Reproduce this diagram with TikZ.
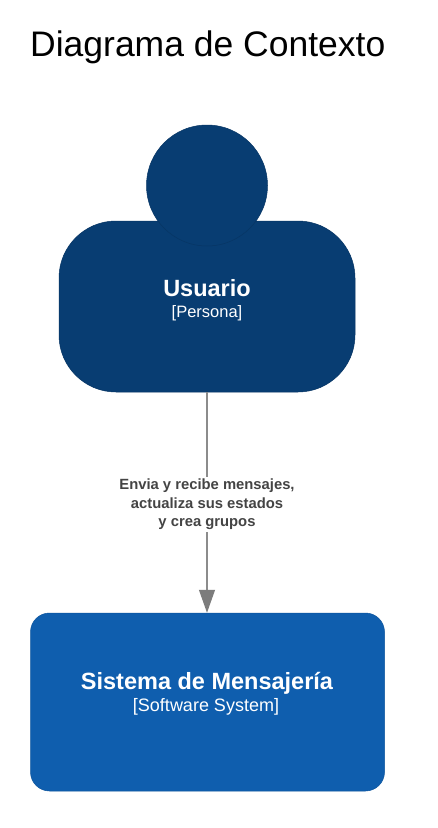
\documentclass[tikz,border=0pt]{standalone}
\usepackage{fontspec}
\setmainfont{Liberation Sans}
\usetikzlibrary{arrows.meta}
\definecolor{persona}{HTML}{083D72}
\definecolor{persline}{HTML}{073564}
\definecolor{sistema}{HTML}{0F5EAE}
\definecolor{sysline}{HTML}{0D559E}
\definecolor{conn}{HTML}{8C8C8C}
\definecolor{connhead}{HTML}{7C7C7C}
\definecolor{lbl}{HTML}{444444}
\tikzset{
 x=1pt,y=-1pt,
 body/.style={draw=persline,fill=persona,rounded corners=57pt,line width=.5pt},
 sysbox/.style={draw=sysline,fill=sistema,rounded corners=19pt,line width=.5pt},
 head/.style={circle,draw=persline,fill=persona,inner sep=0pt,minimum size=121pt,line width=.5pt},
 ttl/.style={font=\bfseries\fontsize{23.5}{26}\selectfont,text=white,inner sep=0pt},
 sub/.style={font=\fontsize{16.5}{19}\selectfont,text=white,inner sep=0pt},
 subb/.style={font=\fontsize{18}{20}\selectfont,text=white,inner sep=0pt},
 rel/.style={font=\bfseries\fontsize{14.8}{18.4}\selectfont,text=lbl,align=center,fill=white,inner xsep=1pt,inner ysep=2pt},
 conector/.style={draw=conn,line width=1.1pt,-{Triangle[length=23pt,width=16pt,color=connhead]}}
}
\begin{document}
\begin{tikzpicture}
\useasboundingbox[fill=white] (0,0) rectangle (438,828);
\node[font=\fontsize{35.5}{40}\selectfont,anchor=west,inner sep=0pt] (titulo) at (30,47) {Diagrama de Contexto};
\node[body,minimum width=296pt,minimum height=171pt,inner sep=0pt] (usuario) at (207,306.5) {};
\node[head] (cabeza) at (207,185.5) {};
\node[ttl] (usuariot) at (207,288.5) {Usuario};
\node[sub] (usuarios) at (207,313) {[Persona]};
\node[sysbox,minimum width=354pt,minimum height=178pt,inner sep=0pt] (sistema) at (207.5,702) {};
\node[ttl] (sistemat) at (207,683) {Sistema de Mensajería};
\node[subb] (sistemas) at (206,707) {[Software System]};
\draw[conector] (usuario.south) -- (usuario.south |- sistema.north);
\node[rel] (relacion) at (207,504.5) {Envia y recibe mensajes,\\actualiza sus estados\\y crea grupos};
\end{tikzpicture}
\end{document}
